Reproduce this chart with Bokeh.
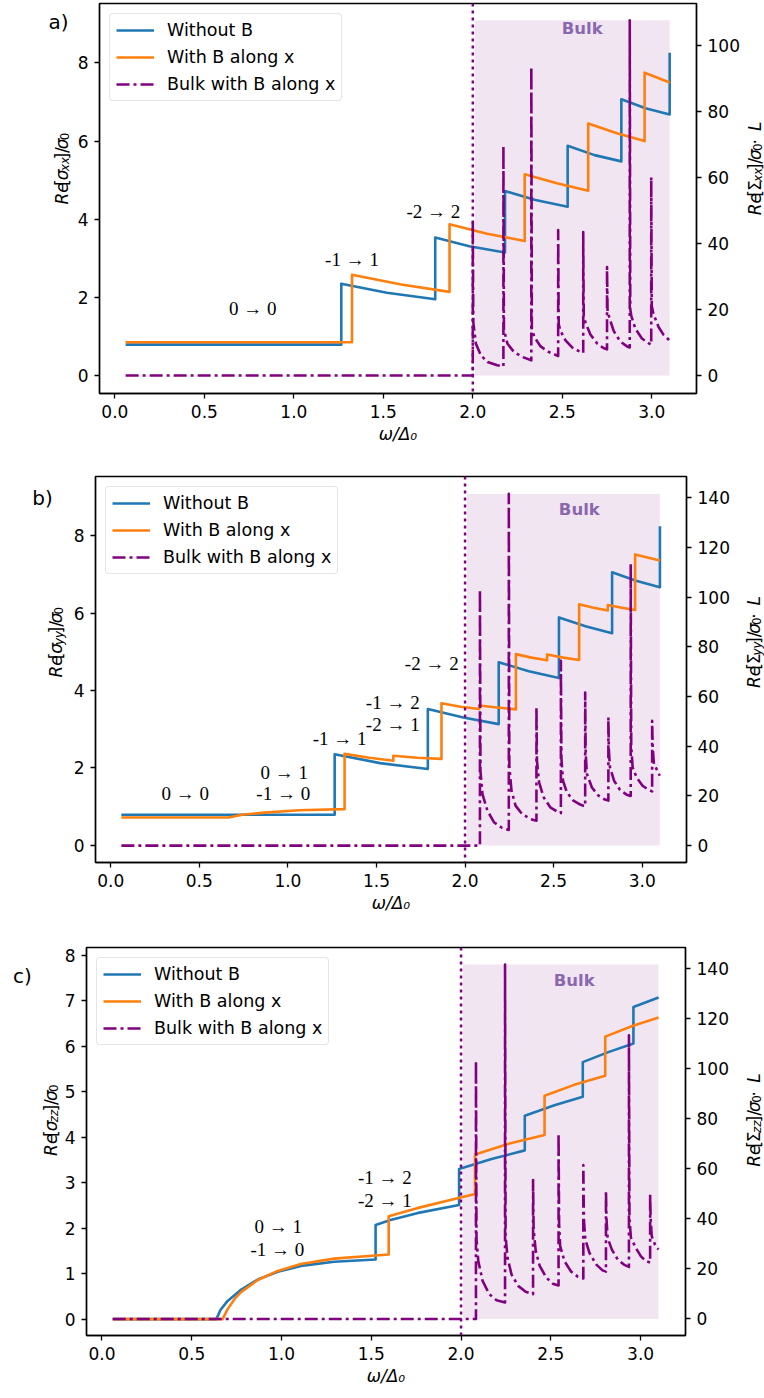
import math
from bokeh.plotting import figure
from bokeh.models import Range1d, LinearAxis, FixedTicker, PrintfTickFormatter, Label, Span
from bokeh.layouts import column, row
from bokeh.embed import file_html
from bokeh.resources import INLINE

# ---------------- data ----------------
x_ticks = [0.0, 0.5, 1.0, 1.5, 2.0, 2.5, 3.0]
series_names = ["Without B", "With B along x", "Bulk with B along x"]
bulk_start = 2.01
gap_edge = 2.0

# panel a : sigma_xx
a_blue_x = [0.06, 1.265, 1.265, 1.52, 1.79, 1.79, 1.98, 2.18, 2.18, 2.35, 2.53, 2.53, 2.68, 2.83, 2.83, 2.965, 3.10, 3.10]
a_blue_y = [0.79, 0.79, 2.35, 2.12, 1.95, 3.53, 3.31, 3.15, 4.72, 4.49, 4.32, 5.88, 5.64, 5.48, 7.07, 6.84, 6.68, 8.26]
a_orange_x = [0.06, 1.325, 1.325, 1.60, 1.87, 1.87, 2.08, 2.29, 2.29, 2.47, 2.645, 2.645, 2.805, 2.96, 2.96, 3.10]
a_orange_y = [0.85, 0.85, 2.58, 2.33, 2.14, 3.87, 3.63, 3.44, 5.15, 4.92, 4.73, 6.45, 6.20, 6.00, 7.75, 7.50]
a_bulk_x = [0.06, 2.0, 2.0, 2.003, 2.017, 2.045, 2.082, 2.137, 2.171,
            2.171, 2.174, 2.193, 2.23, 2.277, 2.327,
            2.327, 2.330, 2.345, 2.379, 2.425, 2.477,
            2.477, 2.480, 2.49, 2.518, 2.555, 2.592, 2.617,
            2.617, 2.620, 2.63, 2.657, 2.695, 2.73, 2.75,
            2.75, 2.753, 2.763, 2.787, 2.824, 2.862, 2.877,
            2.877, 2.880, 2.886, 2.908, 2.945, 2.982, 2.997,
            2.997, 3.000, 3.01, 3.038, 3.066, 3.10]
a_bulk_y = [0, 0, 47, 16, 9.7, 6.1, 4.1, 3.1, 2.8,
            69.5, 14, 9.7, 7.1, 5.6, 4.6,
            93.4, 14, 11.5, 8.8, 7.1, 5.9,
            44, 15.5, 13.5, 10.6, 8.5, 7.4, 6.9,
            43.4, 18, 16, 12.4, 9.7, 8.3, 7.9,
            32.8, 19.5, 17.5, 13.5, 10.3, 8.8, 8.5,
            107.5, 20, 18, 14.2, 11.2, 9.8, 9.3,
            60, 21, 18.5, 14.7, 12.3, 10.6]

# panel b : sigma_yy
b_blue_x = [0.06, 1.264, 1.264, 1.52, 1.79, 1.79, 1.99, 2.19, 2.19, 2.36, 2.53, 2.53, 2.68, 2.83, 2.83, 2.965, 3.10, 3.10]
b_blue_y = [0.785, 0.785, 2.35, 2.12, 1.97, 3.52, 3.30, 3.13, 4.73, 4.50, 4.32, 5.89, 5.66, 5.48, 7.06, 6.84, 6.67, 8.25]
b_orange_x = [0.06, 0.665, 0.75, 0.87, 1.06, 1.32, 1.32, 1.46, 1.595, 1.595, 1.73, 1.867, 1.867, 1.975, 2.08, 2.08,
              2.18, 2.287, 2.287, 2.375, 2.463, 2.463, 2.555, 2.644, 2.644, 2.725, 2.806, 2.806, 2.885, 2.96, 2.96, 3.10]
b_orange_y = [0.715, 0.715, 0.79, 0.84, 0.90, 0.93, 2.36, 2.26, 2.18, 2.31, 2.26, 2.23, 3.67, 3.58, 3.52, 3.61,
              3.56, 3.51, 4.94, 4.85, 4.78, 4.93, 4.85, 4.79, 6.23, 6.14, 6.07, 6.21, 6.14, 6.08, 7.52, 7.36]
b_bulk_x = [0.06, 2.084, 2.084, 2.087, 2.098, 2.126, 2.163, 2.21, 2.247,
            2.247, 2.250, 2.262, 2.285, 2.322, 2.369, 2.403,
            2.403, 2.406, 2.418, 2.444, 2.481, 2.519, 2.541,
            2.541, 2.544, 2.553, 2.575, 2.612, 2.65, 2.678,
            2.678, 2.681, 2.688, 2.716, 2.753, 2.79, 2.809,
            2.809, 2.812, 2.818, 2.841, 2.875, 2.912, 2.935,
            2.935, 2.938, 2.946, 2.968, 3.002, 3.034, 3.056,
            3.056, 3.059, 3.066, 3.081, 3.099]
b_bulk_y = [0, 0, 103, 30, 20.8, 14.1, 9.4, 7.1, 6.3,
            141.5, 32, 22.1, 16.1, 12.7, 10.7, 10.0,
            55.6, 34, 25.4, 19.4, 15.4, 13.7, 13.1,
            74.4, 35, 26.1, 21.4, 18.1, 16.5, 15.8,
            61.6, 37, 28.8, 23.4, 20.1, 18.5, 18.1,
            51.6, 38, 31.5, 26.1, 22.4, 20.5, 20.0,
            113.2, 40, 31.5, 27.5, 24.1, 22.5, 21.8,
            50.2, 40, 32.8, 30.8, 28.1]

# panel c : sigma_zz
c_blue_x = [0.06, 0.637, 0.66, 0.70, 0.776, 0.868, 0.979, 1.108, 1.293, 1.524, 1.524, 1.607, 1.755, 1.989, 1.989,
            2.17, 2.355, 2.355, 2.52, 2.678, 2.678, 2.82, 2.96, 2.96, 3.10]
c_blue_y = [0, 0, 0.20, 0.40, 0.65, 0.87, 1.04, 1.17, 1.26, 1.31, 2.07, 2.18, 2.33, 2.51, 3.30,
            3.52, 3.71, 4.47, 4.70, 4.89, 5.65, 5.87, 6.06, 6.86, 7.07]
c_orange_x = [0.06, 0.672, 0.70, 0.74, 0.776, 0.868, 0.979, 1.108, 1.293, 1.524, 1.597, 1.597, 1.755, 2.078, 2.078,
              2.27, 2.465, 2.465, 2.63, 2.803, 2.803, 2.95, 3.10]
c_orange_y = [0, 0, 0.22, 0.45, 0.60, 0.86, 1.06, 1.21, 1.33, 1.40, 1.42, 2.26, 2.44, 2.75, 3.62,
              3.86, 4.05, 4.91, 5.15, 5.35, 6.21, 6.44, 6.63]
c_bulk_x = [0.06, 2.083, 2.083, 2.086, 2.096, 2.12, 2.157, 2.198, 2.245,
            2.245, 2.248, 2.259, 2.281, 2.318, 2.36, 2.401,
            2.401, 2.404, 2.416, 2.438, 2.475, 2.511, 2.543,
            2.543, 2.546, 2.552, 2.576, 2.613, 2.65, 2.681,
            2.681, 2.684, 2.692, 2.715, 2.752, 2.788, 2.807,
            2.807, 2.810, 2.816, 2.84, 2.872, 2.909, 2.935,
            2.935, 2.938, 2.946, 2.973, 3.001, 3.029, 3.053,
            3.053, 3.056, 3.062, 3.08, 3.099]
c_bulk_y = [0, 0, 103, 32, 23.1, 15.2, 9.9, 7.5, 6.6,
            141.5, 33, 24.4, 17.8, 13.2, 10.9, 9.9,
            55.5, 36, 27.1, 21.2, 16.5, 14.1, 13.4,
            74.0, 38, 29.1, 23.1, 18.9, 16.9, 16.2,
            61.4, 40, 31.7, 26.4, 21.8, 19.4, 18.9,
            51.1, 40, 32.4, 27.7, 23.8, 21.6, 20.8,
            113.2, 40, 32.4, 28.4, 25.1, 23.1, 22.5,
            49.8, 40, 33.0, 29.7, 27.7]

# annotations (text, x, y on left axis)
a_notes = [("0 \u2192 0", 0.77, 1.72), ("-1 \u2192 1", 1.325, 2.97), ("-2 \u2192 2", 1.78, 4.19)]
b_notes = [("0 \u2192 0", 0.42, 1.34), ("0 \u2192 1", 0.979, 1.88), ("-1 \u2192 0", 0.974, 1.34),
           ("-1 \u2192 1", 1.292, 2.76), ("-1 \u2192 2", 1.592, 3.68), ("-2 \u2192 1", 1.592, 3.13),
           ("-2 \u2192 2", 1.812, 4.69)]
c_notes = [("0 \u2192 1", 0.982, 2.04), ("-1 \u2192 0", 0.977, 1.54),
           ("-1 \u2192 2", 1.576, 3.11), ("-2 \u2192 1", 1.576, 2.61)]

# ---------------- style ----------------
FONT = "DejaVu Sans"
SERIF = "Liberation Serif"
BLUE = "#1f77b4"
ORANGE = "#ff7f0e"
PURPLE = "#800080"
BULK_TXT = "#8a68b0"
XR = (-0.086, 3.25)
LW = 2.6
FS = 17

# DejaVu Sans advance widths (em)
WID = {"R": 0.695, "e": 0.615, "[": 0.390, "]": 0.390, "/": 0.337, "x": 0.592, "y": 0.592, "z": 0.525,
       "0": 0.636, "L": 0.557, " ": 0.318, "\u00b7": 0.318, "\u03c3": 0.634, "\u03a3": 0.632}


def text_w(s, fs):
    return sum(WID.get(ch, 0.6) for ch in s) * fs


def parts_len(parts):
    return sum(text_w(t, FS * 0.7 if s else FS) for t, _, s in parts)


def vlabel(f, parts, base_x, center_y):
    """Vertical (bottom-to-top) composite label in a pixel-mapped side figure."""
    adv = 0.0
    start_y = center_y + parts_len(parts) / 2.0
    for txt, ital, sub in parts:
        size = FS * 0.7 if sub else FS
        shift = 0.2 * FS if sub else 0.0
        f.add_layout(Label(x=base_x + shift, y=start_y - adv, text=txt, angle=math.pi / 2,
                           text_font=FONT, text_font_size=f"{size:.2f}px",
                           text_font_style=("italic" if ital else "normal"),
                           text_align="left", text_baseline="alphabetic", text_color="black"))
        adv += text_w(txt, size)


def side_fig(w, h):
    f = figure(width=w, height=h, x_range=Range1d(0, w), y_range=Range1d(h, 0),
               output_backend="svg", toolbar_location=None, x_axis_location=None, y_axis_location=None,
               min_border=0, min_border_left=0, min_border_right=0, min_border_top=0, min_border_bottom=0)
    f.xgrid.grid_line_color = None
    f.ygrid.grid_line_color = None
    f.outline_line_color = None
    return f


def main_fig(cfg):
    w, H = cfg["mw"], cfg["H"]
    bl, br, bt, bb = cfg["bl"], cfg["br"], cfg["bt"], cfg["bb"]
    p = figure(width=w, height=H, x_range=Range1d(*XR), y_range=Range1d(*cfg["yl"]),
               output_backend="svg", toolbar_location=None,
               min_border_left=bl, min_border_right=br, min_border_top=bt, min_border_bottom=bb)
    p.extra_y_ranges = {"right": Range1d(*cfg["yr"])}
    p.add_layout(LinearAxis(y_range_name="right"), "right")
    p.xgrid.grid_line_color = None
    p.ygrid.grid_line_color = None
    p.outline_line_color = "black"
    p.outline_line_width = 1.4
    for ax in p.axis:
        ax.axis_line_color = "black"
        ax.axis_line_width = 1.4
        ax.major_tick_line_color = "black"
        ax.major_tick_line_width = 1.3
        ax.major_tick_out = 5
        ax.major_tick_in = 0
        ax.minor_tick_line_color = None
        ax.major_label_text_font = FONT
        ax.major_label_text_font_size = "17px"
        ax.major_label_text_color = "black"
        ax.major_label_standoff = 6
    p.xaxis.ticker = FixedTicker(ticks=x_ticks)
    p.xaxis.formatter = PrintfTickFormatter(format="%.1f")
    p.xaxis.axis_label = "\u03c9/\u0394\u2080"
    p.xaxis.axis_label_text_font = FONT
    p.xaxis.axis_label_text_font_size = "17px"
    p.xaxis.axis_label_text_font_style = "italic"
    p.xaxis.axis_label_text_color = "black"
    p.xaxis.axis_label_standoff = 3
    p.yaxis[0].ticker = FixedTicker(ticks=cfg["lt"])
    p.yaxis[1].ticker = FixedTicker(ticks=cfg["rt"])

    bx, by, ox, oy, ux, uy = cfg["data"]
    p.quad(left=[bulk_start], right=[max(ux)], bottom=[0], top=[max(uy)], y_range_name="right",
           fill_color=PURPLE, fill_alpha=0.1, line_color=None)
    p.line(bx, by, line_color=BLUE, line_width=LW, line_join="round", legend_label=series_names[0])
    p.line(ox, oy, line_color=ORANGE, line_width=LW, line_join="round", legend_label=series_names[1])
    p.line(ux, uy, line_color=PURPLE, line_width=LW, line_join="round", line_dash="13 4 3 4",
           y_range_name="right", legend_label=series_names[2])
    p.add_layout(Span(location=gap_edge, dimension="height", line_color=PURPLE, line_width=2.5,
                      line_dash="3 4"))

    lg = p.legend[0]
    lg.location = "top_left"
    lg.margin = 10
    lg.padding = 6
    lg.spacing = 7
    lg.label_height = 20
    lg.glyph_height = 20
    lg.glyph_width = 38
    lg.label_standoff = 13
    lg.label_text_font = FONT
    lg.label_text_font_size = "17.5px"
    lg.label_text_color = "black"
    lg.border_line_color = "#cccccc"
    lg.border_line_width = 1
    lg.background_fill_alpha = 0.8
    try:
        lg.border_radius = 4
    except Exception:
        pass

    for t, x, y in cfg["notes"]:
        p.add_layout(Label(x=x, y=y, text=t, text_font=SERIF, text_font_size="19px", text_color="black",
                           text_align="center", text_baseline="middle"))
    bxl, byl = cfg["bulk_label"]
    p.add_layout(Label(x=bxl, y=byl, y_range_name="right", text="Bulk", text_font=FONT,
                       text_font_size="16.5px", text_font_style="bold", text_color=BULK_TXT,
                       text_align="center", text_baseline="middle"))
    return p


def panel(cfg):
    H = cfg["H"]
    sub = cfg["sub"]
    fcy = cfg["bt"] + (H - cfg["bt"] - cfg["bb"]) / 2.0
    left = side_fig(cfg["lw"], H)
    right = side_fig(cfg["rw"], H)
    lx, ly = cfg["letter_pos"]
    left.add_layout(Label(x=lx, y=ly, text=cfg["letter"], text_font=FONT, text_font_size="20px",
                          text_color="black", text_align="center", text_baseline="middle"))
    left_parts = [("Re", True, False), ("[", False, False), ("\u03c3", True, False), (sub, True, True),
                  ("]/", False, False), ("\u03c3", True, False), ("0", False, True)]
    right_parts = [("Re", True, False), ("[", False, False), ("\u03a3", False, False), (sub, True, True),
                   ("]/", False, False), ("\u03c3", True, False), ("0", False, True),
                   (" \u00b7 ", False, False), ("L", True, False)]
    vlabel(left, left_parts, cfg["lbx"], fcy)
    vlabel(right, right_parts, cfg["rbx"], fcy)
    return row(left, main_fig(cfg), right, spacing=0)


cfg_a = dict(H=466, lw=74, mw=668, rw=22, bl=23, br=45, bt=3, bb=73,
             yl=(-0.46, 9.52), yr=(-5.45, 112.6),
             lt=[0, 2, 4, 6, 8], rt=[0, 20, 40, 60, 80, 100],
             data=(a_blue_x, a_blue_y, a_orange_x, a_orange_y, a_bulk_x, a_bulk_y),
             notes=a_notes, bulk_label=(2.611, 105.1), letter="a)", letter_pos=(58, 22),
             sub="xx", lbx=61, rbx=12)
cfg_b = dict(H=471, lw=70, mw=662, rw=32, bl=23, br=45, bt=10, bb=75,
             yl=(-0.45, 9.535), yr=(-6.8, 148.5),
             lt=[0, 2, 4, 6, 8], rt=[0, 20, 40, 60, 80, 100, 120, 140],
             data=(b_blue_x, b_blue_y, b_orange_x, b_orange_y, b_bulk_x, b_bulk_y),
             notes=b_notes, bulk_label=(2.645, 135.3), letter="b)", letter_pos=(42, 26),
             sub="yy", lbx=55, rbx=21)
cfg_c = dict(H=457, lw=61, mw=670, rw=33, bl=23, br=45, bt=10, bb=59,
             yl=(-0.36, 8.17), yr=(-6.6, 148.3),
             lt=[0, 1, 2, 3, 4, 5, 6, 7, 8], rt=[0, 20, 40, 60, 80, 100, 120, 140],
             data=(c_blue_x, c_blue_y, c_orange_x, c_orange_y, c_bulk_x, c_bulk_y),
             notes=c_notes, bulk_label=(2.63, 135.1), letter="c)", letter_pos=(22, 33),
             sub="zz", lbx=50, rbx=22)

layout = column(panel(cfg_a), panel(cfg_b), panel(cfg_c), spacing=0)
open("out.html", "w").write(file_html(layout, INLINE))
